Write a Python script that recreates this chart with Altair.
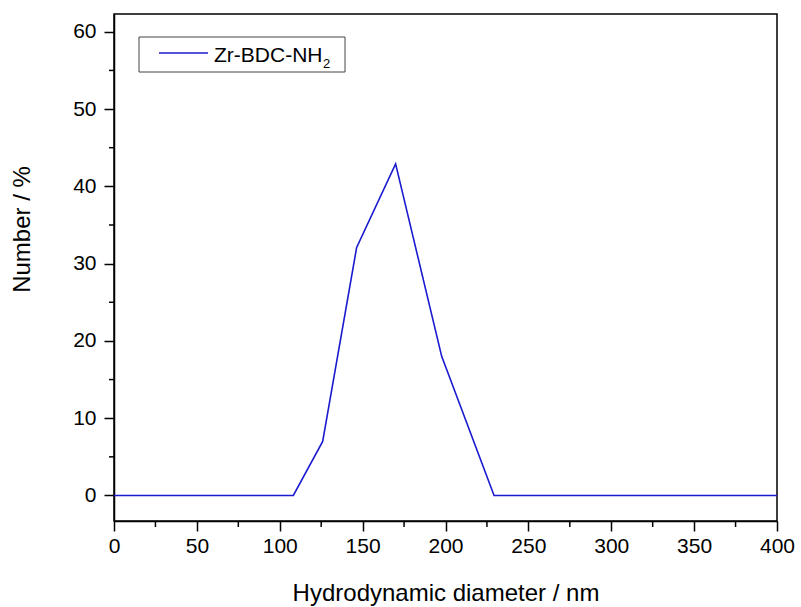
import altair as alt
import pandas as pd

# Data
diameter_nm = [0, 108.2, 125.9, 146.4, 169.9, 197.7, 229.3, 400]
number_pct = [0, 0, 7.0, 32.1, 42.9, 18.0, 0, 0]
series_name = "Zr-BDC-NH"
series_sub = "2"

x_major = [0, 50, 100, 150, 200, 250, 300, 350, 400]
x_minor = [25, 75, 125, 175, 225, 275, 325, 375]
y_major = [0, 10, 20, 30, 40, 50, 60]
y_minor = [5, 15, 25, 35, 45, 55]

FONT = "Liberation Sans"
LINE_COLOR = "#1a1ad0"
W, H = 663, 507

df = pd.DataFrame({"d": diameter_nm, "n": number_pct})
xscale = alt.Scale(domain=[0, 400], nice=False, zero=False)
yscale = alt.Scale(domain=[-3.3, 62.3], nice=False, zero=False)

xaxis = alt.Axis(values=x_major, title="Hydrodynamic diameter / nm",
                 titleX=W / 2, titleY=79, titleBaseline="alphabetic",
                 titleAlign="center", labelFlush=False, labelOverlap=False)
yaxis = alt.Axis(values=y_major, title="Number / %",
                 titleX=-92, titleY=215, titleBaseline="middle",
                 titleAlign="center", titleAngle=-90, labelFlush=False,
                 labelOverlap=False)

line = alt.Chart(df).mark_line(color=LINE_COLOR, strokeWidth=1.6).encode(
    x=alt.X("d:Q", scale=xscale, axis=xaxis),
    y=alt.Y("n:Q", scale=yscale, axis=yaxis),
)

xminor_df = pd.DataFrame({"d": x_minor})
xminor = alt.Chart(xminor_df).mark_rule(color="black", strokeWidth=1.5).encode(
    x=alt.X("d:Q", scale=xscale, axis=xaxis),
    y=alt.value(H), y2=alt.value(H + 6),
)

yminor_df = pd.DataFrame({"n": y_minor})
yminor = alt.Chart(yminor_df).mark_rule(color="black", strokeWidth=1.5).encode(
    y=alt.Y("n:Q", scale=yscale, axis=yaxis),
    x=alt.value(0), x2=alt.value(-5),
)

one = alt.Data(values=[{"a": 1}])
leg_box = alt.Chart(one).mark_rect(fill="white", stroke="#444444", strokeWidth=1).encode(
    x=alt.value(25), x2=alt.value(231), y=alt.value(23), y2=alt.value(58),
)
leg_line = alt.Chart(one).mark_rule(color=LINE_COLOR, strokeWidth=1.6).encode(
    x=alt.value(45), x2=alt.value(94), y=alt.value(39),
)
leg_text = alt.Chart(one).mark_text(
    text=series_name, font=FONT, fontSize=21, align="left", baseline="alphabetic", color="black"
).encode(x=alt.value(100), y=alt.value(47.5))
leg_sub = alt.Chart(one).mark_text(
    text=series_sub, font=FONT, fontSize=13, align="left", baseline="alphabetic", color="black"
).encode(x=alt.value(209), y=alt.value(54))

chart = alt.layer(line, xminor, yminor, leg_box, leg_line, leg_text, leg_sub).properties(
    width=W, height=H,
    autosize=alt.AutoSizeParams(type="none"),
    padding={"left": 114, "top": 14, "right": 24, "bottom": 86},
    background="white",
).configure_view(
    stroke="black", strokeWidth=1.5
).configure_axis(
    grid=False,
    domainColor="black", domainWidth=1.5,
    tickColor="black", tickWidth=1.5, tickSize=10,
    labelFont=FONT, labelFontSize=21, labelColor="black",
    titleFont=FONT, titleFontSize=24, titleColor="black", titleFontWeight="normal",
).configure_axisX(
    labelPadding=4,
).configure_axisY(
    labelPadding=8,
)

chart.save("out.html", embed_options={"renderer": "svg", "actions": False})
